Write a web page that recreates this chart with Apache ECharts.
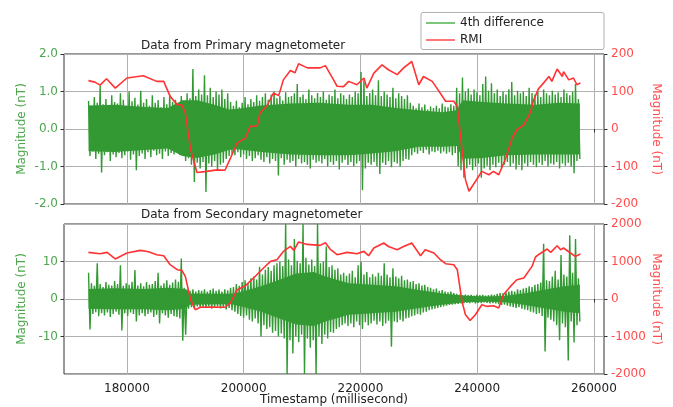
<!DOCTYPE html>
<html>
<head>
<meta charset="utf-8">
<script src="https://cdn.jsdelivr.net/npm/echarts@6/dist/echarts.min.js"></script>
<style>
html,body{margin:0;padding:0;background:#fff;}
#chart{width:673px;height:407px;}
</style>
</head>
<body>
<div id="chart"></div>
<script>
// ---------- data ----------
const X_TICKS = [180000, 200000, 220000, 240000, 260000];
const GREEN_T_START = 173420;
const GREEN_T_END = 257600;

// Primary magnetometer, 4th difference (nT): upper / lower excursions, in time order
const primaryUpper = [
0.75,0.62,0.85,0.70,1.15,0.66,0.80,0.58,0.90,0.72,
0.68,0.95,0.78,0.60,1.00,0.74,0.83,0.65,1.02,0.70,
0.80,0.62,0.90,0.70,0.77,0.58,0.85,0.66,0.92,0.72,
0.78,0.64,0.88,0.70,0.95,0.82,1.60,0.88,1.05,0.92,
1.43,0.90,1.10,0.85,1.00,0.92,1.05,0.80,0.95,0.72,
0.62,0.75,0.58,0.70,0.85,0.66,0.80,0.72,0.90,0.75,
0.85,0.95,0.78,0.92,1.00,0.82,0.88,0.76,0.98,0.85,
0.88,0.95,1.20,0.85,0.92,0.80,1.05,0.90,0.82,0.96,
0.85,1.00,0.78,0.92,0.88,1.05,0.82,0.95,0.90,0.80,
0.92,0.85,1.00,0.95,1.52,1.30,0.88,0.96,1.05,0.90,
1.30,0.88,1.00,0.92,0.85,1.10,0.82,0.95,0.88,0.80,
0.90,0.70,0.62,0.55,0.68,0.58,0.65,0.52,0.60,0.56,
0.62,0.55,0.68,0.60,0.58,0.66,0.62,1.10,0.95,1.37,
1.00,1.08,0.92,1.05,0.98,0.90,1.20,1.40,1.02,1.22,
0.95,1.05,0.88,1.00,0.92,1.06,1.25,0.90,1.02,0.95,
1.00,0.88,1.10,0.96,0.92,1.00,0.85,1.05,0.95,0.90,
1.02,0.92,0.98,0.85,1.05,0.95,0.90,1.00,1.20,0.80
];
const primaryLower = [
-0.72,-0.60,-0.80,-0.66,-1.16,-0.70,-0.62,-0.85,-0.68,-0.75,
-0.64,-0.78,-0.70,-0.60,-0.82,-0.68,-1.10,-0.72,-0.65,-0.80,
-0.62,-0.75,-0.58,-0.70,-0.66,-0.80,-0.60,-0.72,-0.64,-0.68,
-0.58,-0.70,-0.62,-0.85,-0.78,-0.95,-1.41,-0.90,-1.05,-0.88,
-1.68,-0.92,-1.00,-0.85,-1.10,-0.95,-0.90,-0.80,-0.72,-0.66,
-0.70,-0.62,-0.75,-0.68,-0.80,-0.72,-0.85,-0.78,-0.70,-0.82,
-0.88,-0.75,-0.92,-0.80,-0.85,-1.24,-0.78,-0.95,-0.82,-0.90,
-0.85,-1.00,-0.80,-0.92,-0.88,-0.95,-1.05,-0.82,-0.90,-0.86,
-0.92,-0.80,-1.00,-0.88,-0.95,-0.85,-1.08,-0.90,-0.82,-0.96,
-0.88,-1.00,-0.92,-0.85,-1.63,-1.05,-0.90,-0.95,-0.88,-1.00,
-1.20,-0.90,-0.96,-0.85,-1.02,-0.88,-0.92,-1.00,-0.85,-0.80,
-0.82,-0.70,-0.62,-0.66,-0.58,-0.64,-0.55,-0.68,-0.60,-0.62,
-0.58,-0.65,-0.60,-0.66,-0.62,-0.70,-0.64,-1.00,-1.10,-1.30,
-1.05,-0.95,-1.10,-1.00,-0.92,-1.30,-1.05,-0.98,-1.10,-0.95,
-1.02,-0.90,-1.05,-0.95,-0.88,-1.00,-0.92,-1.08,-0.96,-1.10,
-0.92,-1.00,-0.88,-0.95,-1.02,-0.90,-0.96,-0.85,-1.00,-0.92,
-0.95,-0.88,-1.05,-0.92,-0.98,-0.90,-1.00,-1.18,-0.85,-0.80
];
// dense core of the primary trace (nT)
const primaryCoreT  = [173420,178000,183000,187000,189500,192000,195000,197500,199000,203000,208000,213000,218000,222000,226000,230000,234000,236500,237500,241000,245000,250000,254000,257600];
const primaryCoreUp = [0.63,0.65,0.59,0.56,0.77,0.77,0.65,0.52,0.54,0.63,0.68,0.70,0.65,0.65,0.56,0.50,0.45,0.50,0.77,0.72,0.68,0.65,0.70,0.68];
const primaryCoreLo = [-0.59,-0.61,-0.56,-0.52,-0.72,-0.77,-0.68,-0.56,-0.54,-0.61,-0.68,-0.70,-0.70,-0.65,-0.59,-0.47,-0.47,-0.45,-0.79,-0.77,-0.70,-0.68,-0.68,-0.68];

// Secondary magnetometer, 4th difference (nT)
const secondaryUpper = [
7.0,4.2,3.5,9.5,4.0,3.2,4.5,3.8,3.6,4.8,
4.0,9.0,3.5,4.2,3.8,4.6,7.7,3.6,4.2,3.4,
4.5,3.8,4.0,4.8,7.0,3.6,4.2,5.0,3.8,4.4,
5.2,4.6,10.8,3.0,2.6,2.2,2.6,2.0,2.4,2.2,
2.6,2.0,2.4,2.8,2.2,2.5,2.0,2.6,2.3,3.0,
3.2,4.0,3.5,4.5,5.0,4.2,5.5,6.0,5.2,8.6,
6.5,7.8,8.5,7.5,9.0,9.5,10.0,8.8,20.0,10.5,
9.0,16.0,10.2,9.5,20.0,11.0,9.2,10.5,8.8,20.0,
9.5,10.0,14.0,8.5,9.0,7.8,8.2,6.5,7.0,6.2,
6.8,7.5,5.8,9.0,10.0,6.5,7.2,5.8,6.6,6.0,
7.0,6.2,9.5,6.5,5.8,8.2,6.0,5.5,6.2,5.0,
5.2,4.6,4.8,4.0,4.2,3.6,3.8,3.2,3.0,2.6,
2.8,2.2,2.4,2.0,1.8,2.0,1.6,1.4,1.2,1.0,
1.2,1.0,1.1,0.9,1.2,1.0,1.1,0.9,1.0,1.2,
1.1,1.4,1.6,1.5,1.8,2.0,2.2,2.0,2.6,2.4,
2.8,3.0,3.4,3.2,3.8,4.0,4.4,14.7,5.0,4.8,
6.0,7.5,5.2,11.7,6.5,6.0,17.0,7.0,16.0,5.5
];
const secondaryLower = [
-8.1,-4.0,-3.5,-4.6,-3.8,-4.4,-3.6,-4.8,-4.0,-3.4,
-4.2,-8.4,-3.8,-4.5,-3.6,-4.0,-6.0,-4.4,-3.8,-4.6,
-4.0,-3.6,-4.8,-4.2,-6.5,-3.8,-4.4,-5.0,-4.0,-4.6,
-4.8,-5.2,-11.1,-9.5,-2.6,-2.2,-2.5,-2.0,-2.4,-2.2,
-2.4,-2.0,-2.6,-2.2,-2.0,-2.5,-2.2,-2.8,-2.4,-3.0,
-3.4,-4.0,-4.5,-5.0,-4.4,-5.5,-6.0,-5.2,-6.5,-10.0,
-7.0,-8.0,-7.5,-9.0,-8.5,-10.0,-9.2,-10.5,-20.0,-11.0,
-14.5,-10.0,-11.5,-9.5,-20.0,-10.5,-13.0,-11.0,-20.0,-10.0,
-12.0,-9.5,-10.5,-8.8,-9.0,-8.0,-7.5,-7.0,-6.5,-7.2,
-6.5,-7.5,-6.0,-7.0,-8.0,-6.2,-7.0,-6.5,-5.8,-6.8,
-6.0,-7.2,-6.5,-5.8,-12.7,-6.0,-6.2,-5.5,-6.0,-5.2,
-5.0,-4.6,-4.4,-4.0,-4.2,-3.6,-3.4,-3.0,-2.8,-2.6,
-2.4,-2.2,-2.0,-1.8,-1.6,-1.5,-1.4,-1.3,-1.2,-1.1,
-1.0,-1.1,-0.9,-1.2,-1.0,-1.1,-0.9,-1.0,-1.2,-1.1,
-1.2,-1.4,-1.6,-1.5,-1.8,-2.0,-2.2,-2.4,-2.2,-2.6,
-2.8,-3.0,-3.4,-3.6,-4.0,-3.8,-4.5,-14.0,-5.0,-5.5,
-6.0,-7.0,-11.0,-6.5,-7.5,-16.4,-6.0,-11.6,-7.0,-6.0
];
// dense core of the secondary trace (nT)
const secondaryCoreT  = [173420,178000,183000,187000,190000,190700,195000,198000,200000,203000,206000,209000,212000,214000,218000,222000,226000,230000,234000,238000,242000,245000,248000,252000,255000,257600];
const secondaryCoreUp = [2.7,2.9,2.7,3.0,2.7,1.5,1.4,1.4,2.1,3.4,5.1,6.8,7.2,6.0,4.2,3.8,3.4,2.4,1.5,0.85,0.7,0.85,1.5,2.6,3.4,3.8];
const secondaryCoreLo = [-2.6,-2.7,-2.7,-3.0,-2.6,-1.5,-1.4,-1.4,-2.1,-3.4,-5.1,-6.8,-7.2,-6.0,-4.2,-3.8,-3.4,-2.4,-1.5,-0.85,-0.7,-0.85,-1.5,-2.6,-3.4,-3.8];

// RMI, primary (nT)
const rmiPrimaryT = [173400,174500,175400,176500,178000,180000,182800,185100,186300,187400,188600,189400,190000,190900,192000,193700,195400,196800,198900,200300,201100,202300,202800,204000,205100,206000,206800,208000,208800,209400,210900,213100,214000,215400,216000,217100,218000,219400,220600,221100,222300,223700,224800,226300,227400,228800,230000,230800,232300,233100,234600,236000,236600,237400,238000,238600,239700,240800,242000,242800,243700,244800,246000,246800,248000,249100,249700,250500,251400,252300,252800,253700,254600,254800,255700,256500,257100,257700];
const rmiPrimaryV = [129,125,117,134,109,136,142,127,127,87,65,64,43,-55,-116,-113,-109,-110,-37,-24,7,8,43,62,96,89,131,156,150,174,163,163,169,131,114,113,127,118,136,109,149,171,158,145,163,180,118,140,127,109,74,74,60,-55,-135,-166,-140,-113,-122,-113,-122,-82,-24,-2,11,43,78,107,123,140,127,160,140,153,131,136,118,123];

// RMI, secondary (nT)
const rmiSecondaryT = [173400,175400,176600,178000,180000,182300,183700,185100,186300,187400,188600,189400,190000,190900,191700,192600,194000,196800,197700,198900,200300,201700,203400,204600,205700,206800,208000,208600,209400,210900,213100,214000,214800,216000,217700,219400,220600,221400,222300,224000,224800,226300,227400,228800,230300,231100,232600,233700,234600,236000,236600,237400,238000,238800,239700,240800,241700,242800,243700,244500,245700,246800,248000,249400,250000,250500,252000,252600,253700,254300,254800,256000,256800,257700];
const rmiSecondaryV = [1243,1208,1243,1067,1227,1296,1260,1181,1155,915,781,763,603,-19,-285,-220,-213,-220,-107,248,355,560,827,1003,1048,1269,1403,1296,1520,1456,1430,1500,1333,1181,1243,1208,1270,1155,1360,1493,1400,1315,1400,1493,1155,1315,1227,1048,941,915,781,-64,-419,-571,-419,-152,-197,-179,-240,115,336,515,560,869,1120,1181,1333,1243,1421,1315,1360,1227,1136,1200];

// ---------- build ----------
function zigzag(up, lo) {
  const n = up.length * 2;
  const dt = (GREEN_T_END - GREEN_T_START) / (n - 1);
  const out = [];
  for (let i = 0; i < up.length; i++) {
    out.push([GREEN_T_START + (2 * i) * dt, up[i]]);
    out.push([GREEN_T_START + (2 * i + 1) * dt, lo[i]]);
  }
  return out;
}
function pairs(t, v) { return t.map((x, i) => [x, v[i]]); }

const GREEN_LINE = '#339933', RED_LINE = '#ff3333';
const GREEN_TXT = '#4da64d', RED_TXT = '#ff4d4d';
const FONT = 'DejaVu Sans';
const XMIN = 169215, XMAX = 261735;

function xAxis(gridIndex, showLabels) {
  return {
    type: 'value', gridIndex, min: XMIN, max: XMAX,
    axisLine: { show: false },
    axisTick: { show: true, customValues: X_TICKS, length: 3.5, lineStyle: { color: '#333' } },
    axisLabel: { show: showLabels, customValues: X_TICKS, margin: 9, color: '#222', fontFamily: FONT, fontSize: 12,
      formatter: v => String(v) },
    splitLine: { show: true, lineStyle: { color: '#b0b0b0', width: 1 } },
    name: showLabels ? 'Timestamp (millisecond)' : '',
    nameLocation: 'middle', nameGap: 20, nameMoveOverlap: false,
    nameTextStyle: { color: '#222', fontFamily: FONT, fontSize: 12, verticalAlign: 'top' }
  };
}
function yAxis(gridIndex, pos, min, max, interval, color, fmt, hideEnds, showSplit, nameGap) {
  return {
    type: 'value', gridIndex, position: pos, min, max, interval,
    axisLine: { show: false },
    axisTick: { show: true, length: 3.5, lineStyle: { color: '#333' } },
    axisLabel: { color, fontFamily: FONT, fontSize: 12, margin: pos === 'left' ? 6 : 7,
      formatter: fmt, showMinLabel: !hideEnds, showMaxLabel: !hideEnds },
    splitLine: { show: showSplit, lineStyle: { color: '#b0b0b0', width: 1 } },
    name: 'Magnitude (nT)', nameLocation: 'middle', nameGap, nameMoveOverlap: false,
    nameRotate: pos === 'left' ? 90 : -90,
    nameTextStyle: { color, fontFamily: FONT, fontSize: 12 }
  };
}
function band(name, x, y, t, v) {
  return { name, type: 'line', xAxisIndex: x, yAxisIndex: y, symbol: 'none', silent: true,
    data: pairs(t, v), lineStyle: { width: 0 }, areaStyle: { color: GREEN_LINE, opacity: 1 }, z: 2 };
}

const chart = echarts.init(document.getElementById('chart'), null, { renderer: 'canvas' });
chart.setOption({
  animation: false,
  backgroundColor: '#fff',
  textStyle: { fontFamily: FONT },
  title: [
    { text: 'Data from Primary magnetometer', left: 141, top: 40,
      textStyle: { fontFamily: FONT, fontSize: 12, fontWeight: 'normal', color: '#222' }, padding: 0 },
    { text: 'Data from Secondary magnetometer', left: 141, top: 209,
      textStyle: { fontFamily: FONT, fontSize: 12, fontWeight: 'normal', color: '#222' }, padding: 0 }
  ],
  legend: {
    orient: 'vertical', left: 426, top: 16, itemWidth: 29, itemHeight: 1.6, itemGap: 3,
    icon: 'rect', padding: 0, data: ['4th difference', 'RMI'],
    textStyle: { fontFamily: FONT, fontSize: 12, color: '#222', lineHeight: 14 }
  },
  graphic: [{ type: 'rect', shape: { x: 421, y: 12.5, width: 183, height: 37, r: 2 },
    style: { fill: 'none', stroke: '#b0b0b0', lineWidth: 1 }, z: -1 }],
  grid: [
    { left: 64, right: 69, top: 54, height: 150, show: true, borderColor: '#333', borderWidth: 1, backgroundColor: 'transparent' },
    { left: 64, right: 69, top: 224, height: 150, show: true, borderColor: '#333', borderWidth: 1, backgroundColor: 'transparent' }
  ],
  xAxis: [xAxis(0, false), xAxis(1, true)],
  yAxis: [
    yAxis(0, 'left', -2, 2, 1, GREEN_TXT, v => v.toFixed(1), false, true, 36),
    yAxis(0, 'right', -200, 200, 100, RED_TXT, v => String(v), false, false, 46),
    yAxis(1, 'left', -20, 20, 10, GREEN_TXT, v => String(v), true, true, 36),
    yAxis(1, 'right', -2000, 2000, 1000, RED_TXT, v => String(v), false, false, 46)
  ],
  series: [
    band('p-core-up', 0, 0, primaryCoreT, primaryCoreUp),
    band('p-core-lo', 0, 0, primaryCoreT, primaryCoreLo),
    { name: '4th difference', type: 'line', xAxisIndex: 0, yAxisIndex: 0, symbol: 'none',
      data: zigzag(primaryUpper, primaryLower), lineStyle: { color: GREEN_LINE, width: 1.4 }, itemStyle: { color: '#5cb85c' }, z: 3 },
    { name: 'RMI', type: 'line', xAxisIndex: 0, yAxisIndex: 1, symbol: 'none',
      data: pairs(rmiPrimaryT, rmiPrimaryV), lineStyle: { color: RED_LINE, width: 1.6 }, itemStyle: { color: '#ff5555' }, z: 4 },
    band('s-core-up', 1, 2, secondaryCoreT, secondaryCoreUp),
    band('s-core-lo', 1, 2, secondaryCoreT, secondaryCoreLo),
    { name: '4th difference', type: 'line', xAxisIndex: 1, yAxisIndex: 2, symbol: 'none',
      data: zigzag(secondaryUpper, secondaryLower), lineStyle: { color: GREEN_LINE, width: 1.4 }, itemStyle: { color: '#5cb85c' }, z: 3 },
    { name: 'RMI', type: 'line', xAxisIndex: 1, yAxisIndex: 3, symbol: 'none',
      data: pairs(rmiSecondaryT, rmiSecondaryV), lineStyle: { color: RED_LINE, width: 1.6 }, itemStyle: { color: '#ff5555' }, z: 4 }
  ]
});
</script>
</body>
</html>
